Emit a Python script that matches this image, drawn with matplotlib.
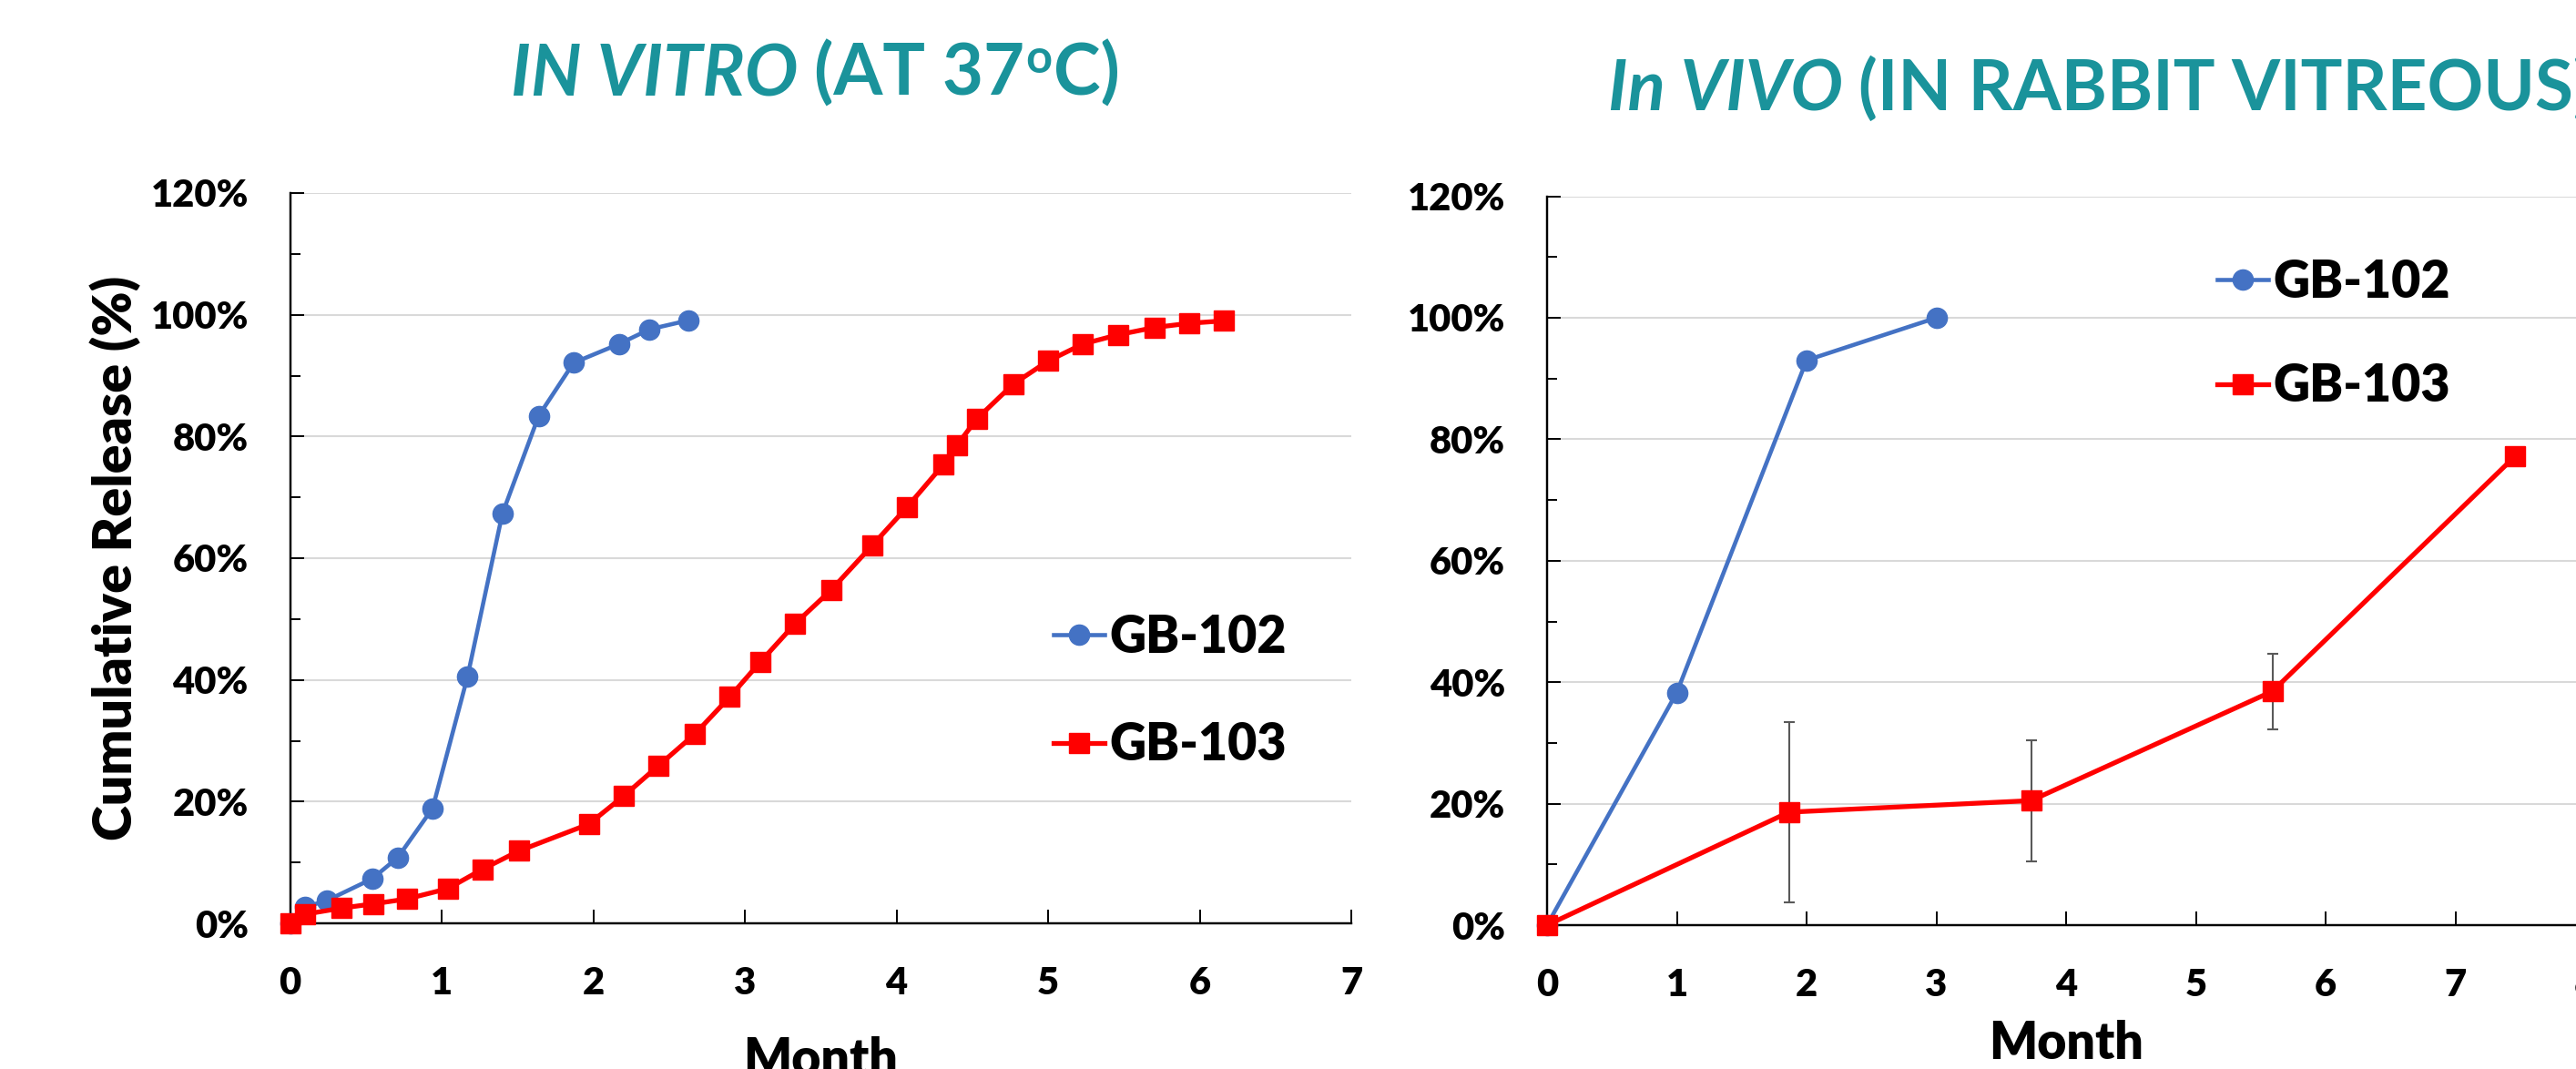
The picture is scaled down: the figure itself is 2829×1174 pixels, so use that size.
import numpy as np
import matplotlib
matplotlib.use('Agg')
from matplotlib import pyplot as plt
from matplotlib.ticker import MultipleLocator, PercentFormatter

plt.rcParams['font.family'] = ['Lato', 'DejaVu Sans']
plt.rcParams['font.weight'] = 'heavy'

W, H, DPI = 2829, 1174, 100
TEAL = '#1A939B'
BLUE = '#4472C4'
RED = '#FF0000'
WEIGHT = 'heavy'

# ---- data (cumulative release, %) ----
vitro_102_month = [0, 0.10, 0.24, 0.54, 0.71, 0.94, 1.17, 1.40, 1.64, 1.87, 2.17, 2.37, 2.63]
vitro_102_pct = [0, 2.7, 3.7, 7.3, 10.8, 18.9, 40.5, 67.3, 83.4, 92.1, 95.2, 97.6, 99.1]

vitro_103_month = [0, 0.10, 0.34, 0.55, 0.77, 1.04, 1.27, 1.51, 1.97, 2.20, 2.43, 2.67, 2.90,
                   3.10, 3.33, 3.57, 3.84, 4.07, 4.31, 4.40, 4.53, 4.77, 5.00, 5.23, 5.46,
                   5.70, 5.93, 6.16]
vitro_103_pct = [0, 1.5, 2.5, 3.2, 4.0, 5.7, 8.9, 11.9, 16.3, 20.9, 25.9, 31.1, 37.2,
                 42.9, 49.2, 54.8, 62.1, 68.4, 75.4, 78.6, 82.9, 88.6, 92.4, 95.2, 96.7,
                 97.9, 98.6, 99.0]

vivo_102_month = [0, 1, 2, 3]
vivo_102_pct = [0, 38.3, 93.0, 100]

vivo_103_month = [0, 1.864, 3.73, 5.59, 7.46]
vivo_103_pct = [0, 18.6, 20.5, 38.5, 77.2]
vivo_103_err = [0, 14.9, 10.0, 6.2, 0]

series_names = ['GB-102', 'GB-103']


def px_rect(x0, x1, y_top, y_bot):
    return [x0 / W, 1 - y_bot / H, (x1 - x0) / W, (y_bot - y_top) / H]


def style_axes(ax, xmax):
    ax.set_xlim(0, xmax)
    ax.set_ylim(0, 1.2)
    ax.xaxis.set_major_locator(MultipleLocator(1))
    ax.yaxis.set_major_locator(MultipleLocator(0.2))
    ax.yaxis.set_minor_locator(MultipleLocator(0.1))
    ax.yaxis.set_major_formatter(PercentFormatter(1.0, decimals=0))
    ax.grid(axis='y', which='major', color='#D9D9D9', linewidth=1.5)
    ax.set_axisbelow(True)
    for s in ['top', 'right']:
        ax.spines[s].set_visible(False)
    for s in ['left', 'bottom']:
        ax.spines[s].set_linewidth(1.75)
    ax.tick_params(which='both', direction='in', width=1.4, labelsize=30)
    ax.tick_params(axis='y', which='major', length=11, pad=33)
    ax.tick_params(axis='y', which='minor', length=8)
    ax.tick_params(axis='x', which='major', length=11, pad=34)
    for lab in ax.get_xticklabels() + ax.get_yticklabels():
        lab.set_fontweight(WEIGHT)


def plot_pair(ax, m1, p1, m2, p2):
    l1, = ax.plot(m1, np.array(p1) / 100, color=BLUE, lw=3.3, marker='o', ms=16,
                  zorder=3, clip_on=False)
    l2, = ax.plot(m2, np.array(p2) / 100, color=RED, lw=3.8, marker='s', ms=15.5,
                  zorder=4, clip_on=False)
    return [l1, l2]


def add_title(x_px, base_px, parts, size):
    renderer = fig.canvas.get_renderer()
    x = x_px
    for text, style, scale, rise, gap in parts:
        x += gap * size * DPI / 72
        t = fig.text(x / W, 1 - (base_px - rise) / H, text, fontsize=size * scale,
                     fontstyle=style, fontweight='bold', color=TEAL,
                     ha='left', va='baseline')
        x = t.get_window_extent(renderer).x1


fig = plt.figure(figsize=(W / DPI, H / DPI), dpi=DPI)

# ---- in vitro ----
ax1 = fig.add_axes(px_rect(318.6, 1484, 212, 1014))
style_axes(ax1, 7)
h1 = plot_pair(ax1, vitro_102_month, vitro_102_pct, vitro_103_month, vitro_103_pct)
ax1.set_xlabel('Month', fontsize=40, fontweight=WEIGHT, va='top')
ax1.xaxis.set_label_coords(0.5, -0.1546)
ax1.set_ylabel('Cumulative Release (%)', fontsize=42.5, fontweight=WEIGHT)
ax1.yaxis.set_label_coords((126.5 - 318.6) / 1165.4, 0.5)
ax1.yaxis.label.set_va('center')
ax1.legend(h1, series_names, loc='center left', bbox_to_anchor=(1157 / W, 1 - 759 / H),
           bbox_transform=fig.transFigure, frameon=False, borderpad=0, borderaxespad=0,
           handlelength=1.0, handletextpad=0.1, labelspacing=1.2, numpoints=1,
           prop=dict(size=40, weight=WEIGHT))

# ---- in vivo ----
ax2 = fig.add_axes(px_rect(1699, 2839, 215.6, 1016))
style_axes(ax2, 8)
err = np.array(vivo_103_err)
has_err = err > 0
ax2.errorbar(np.array(vivo_103_month)[has_err], np.array(vivo_103_pct)[has_err] / 100,
             yerr=err[has_err] / 100, fmt='none', ecolor='#595959', elinewidth=1.5,
             capsize=4, capthick=1.5, zorder=2.8)
h2 = plot_pair(ax2, vivo_102_month, vivo_102_pct, vivo_103_month, vivo_103_pct)
ax2.set_xlabel('Month', fontsize=40, fontweight=WEIGHT, va='top')
ax2.xaxis.set_label_coords(0.5, -0.13)
ax2.legend(h2, series_names, loc='center left', bbox_to_anchor=(2435 / W, 1 - 367 / H),
           bbox_transform=fig.transFigure, frameon=False, borderpad=0, borderaxespad=0,
           handlelength=1.0, handletextpad=0.1, labelspacing=1.12, numpoints=1,
           prop=dict(size=40, weight=WEIGHT))

# ---- titles (mixed italic / upright) ----
add_title(560.7, 105, [('IN VITRO', 'italic', 1.0, 0, 0),
                       ('(AT 37', 'normal', 1.0, 0, 0.23),
                       ('o', 'normal', 0.65, 25, 0.02),
                       ('C)', 'normal', 1.0, 0, 0.02)], 56)
add_title(1766, 121, [('In VIVO', 'italic', 1.0, 0, 0),
                      ('(IN RABBIT VITREOUS)', 'normal', 1.0, 0, 0.23)], 55)

fig.savefig('out.png', dpi=DPI)
